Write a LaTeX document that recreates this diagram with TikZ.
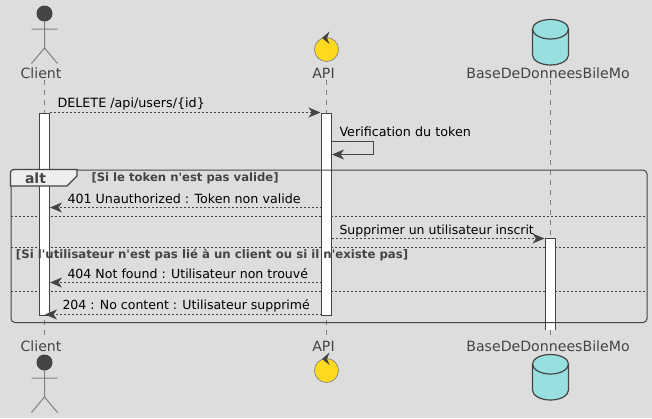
\documentclass[tikz,border=0pt]{standalone}
\usepackage{fontspec}
\setmainfont{DejaVu Sans}
\usetikzlibrary{arrows.meta}
\definecolor{bgGray}{HTML}{DDDDDD}
\definecolor{inkDark}{HTML}{444444}
\definecolor{tabGray}{HTML}{EEEEEE}
\definecolor{ctrlYellow}{HTML}{FFD91F}
\definecolor{dbCyan}{HTML}{98E0E0}
\begin{document}
\begin{tikzpicture}[x=0.75pt,y=-0.75pt,>={Stealth[length=9pt,width=7.5pt,inset=2.6pt]},line width=0.75pt]
  \tikzstyle{head}=[text=inkDark, font=\fontsize{10.6}{12}\selectfont, inner sep=0pt]
  \tikzstyle{msg}=[text=black, font=\fontsize{9.55}{12}\selectfont, inner sep=0pt, anchor=base west]
  \tikzstyle{guard}=[text=inkDark, font=\fontsize{8.72}{10}\selectfont\bfseries, inner sep=0pt, anchor=base west]
  \tikzstyle{bar}=[draw=inkDark, fill=white, minimum width=7.5pt, inner sep=0pt, anchor=north]
  \tikzstyle{life}=[draw=gray, dash pattern=on 3.75pt off 3.75pt, line width=0.6pt]
  \tikzstyle{call}=[->, draw=inkDark, dash pattern=on 1.5pt off 1.5pt, line width=0.6pt]
  \tikzstyle{split}=[draw=inkDark, dash pattern=on 1.5pt off 1.5pt, line width=0.6pt]

  \useasboundingbox[fill=bgGray] (0,0) rectangle (652,418);

  % Lifelines
  \coordinate (clientTop) at (44.5,80);
  \coordinate (clientEnd) at (44.5,338);
  \coordinate (apiTop) at (326.5,80);
  \coordinate (apiEnd) at (326.5,338);
  \coordinate (dbTop) at (550.5,80);
  \coordinate (dbEnd) at (550.5,338);
  \draw[life] (clientTop) -- (clientEnd);
  \draw[life] (apiTop) -- (apiEnd);
  \draw[life] (dbTop) -- (dbEnd);

  % Branch separators
  \coordinate (splitOneA) at (10.5,216);
  \coordinate (splitOneB) at (646.5,216);
  \coordinate (splitTwoA) at (10.5,247.5);
  \coordinate (splitTwoB) at (646.5,247.5);
  \coordinate (splitThreeA) at (10.5,291.5);
  \coordinate (splitThreeB) at (646.5,291.5);
  \draw[split] (splitOneA) -- (splitOneB);
  \draw[split] (splitTwoA) -- (splitTwoB);
  \draw[split] (splitThreeA) -- (splitThreeB);

  % Activation bars
  \node[bar, minimum height=151.5pt] (clientBar) at (44.5,112.5) {};
  \node[bar, minimum height=151.5pt] (apiBar) at (326.5,112.5) {};
  \fill[white] (545.5,238.5) rectangle (555.5,330);
  \draw[inkDark] (545.5,330) -- (545.5,238.5) -- (555.5,238.5) -- (555.5,330);
  \coordinate (dbBar) at (545.5,238.5);

  % Participants, top row
  \fill[inkDark] (44.5,13.5) circle[radius=6pt];
  \draw[gray] (31.5,29) -- (57.5,29) (44.5,21) -- (44.5,48) -- (31.5,63.5) (44.5,48) -- (57.5,63.5);
  \node[head] (clientHead) at (41,73) {Client};
  \draw[inkDark!70, fill=ctrlYellow, line width=0.5pt] (326.5,49.5) circle[radius=9pt];
  \fill[inkDark] (322,38) -- (329.5,31.5) -- (327,38) -- (329.5,44) -- cycle;
  \node[head] (apiHead) at (323.5,73) {API};
  \draw[inkDark, fill=dbCyan, line width=0.9pt] (532.5,29) arc[start angle=180, end angle=360, x radius=18, y radius=9.5] -- (568.5,55) arc[start angle=0, end angle=180, x radius=18, y radius=10] -- cycle;
  \draw[inkDark, line width=0.9pt] (532.5,29) arc[start angle=180, end angle=0, x radius=18, y radius=10];
  \node[head] (dbHead) at (548,73) {BaseDeDonneesBileMo};

  % Participants, bottom row
  \fill[inkDark] (44.5,362.5) circle[radius=6pt];
  \draw[gray] (31.5,378) -- (57.5,378) (44.5,370) -- (44.5,397) -- (31.5,412.5) (44.5,397) -- (57.5,412.5);
  \node[head] (clientFoot) at (41,346) {Client};
  \draw[inkDark!70, fill=ctrlYellow, line width=0.5pt] (326.5,370.5) circle[radius=9pt];
  \fill[inkDark] (322,359) -- (329.5,352.5) -- (327,359) -- (329.5,365) -- cycle;
  \node[head] (apiFoot) at (323.5,346) {API};
  \draw[inkDark, fill=dbCyan, line width=0.9pt] (532.5,364) arc[start angle=180, end angle=360, x radius=18, y radius=9.5] -- (568.5,390) arc[start angle=0, end angle=180, x radius=18, y radius=10] -- cycle;
  \draw[inkDark, line width=0.9pt] (532.5,364) arc[start angle=180, end angle=0, x radius=18, y radius=10];
  \node[head] (dbFoot) at (548,346) {BaseDeDonneesBileMo};

  % Alt frame
  \node[draw=inkDark, rounded corners=3pt, minimum width=477pt, minimum height=114.4pt, inner sep=0pt, anchor=north west] (altFrame) at (10.5,169.5) {};
  \draw[inkDark, fill=tabGray, line width=0.9pt] (10.5,186) -- (10.5,172.5) arc[start angle=180, end angle=270, radius=3] -- (77,169.5) -- (77,176) -- (67,186) -- cycle;
  \node[text=inkDark, font=\fontsize{10.5}{12}\selectfont\bfseries, inner sep=0pt, anchor=base] (altTag) at (35.5,183) {alt};
  \node[guard] (guardOne) at (91,181.5) {[Si le token n\textquotesingle est pas valide]};
  \node[guard, font=\fontsize{8.79}{10}\selectfont\bfseries] (guardTwo) at (15.5,258) {[Si l\textquotesingle utilisateur n\textquotesingle est pas lié à un client ou si il n\textquotesingle existe pas]};

  % Messages
  \coordinate (deleteFrom) at (49.5,112.5);
  \coordinate (deleteTo) at (320.5,112.5);
  \draw[call] (deleteFrom) -- (deleteTo);
  \node[msg] (deleteText) at (57,107.5) {DELETE /api/users/\{id\}};

  \coordinate (checkFrom) at (331.5,141.5);
  \coordinate (checkTo) at (332,154.5);
  \draw[->, draw=inkDark] (checkFrom) -- (373.5,141.5) -- (373.5,154.5) -- (checkTo);
  \node[msg] (checkText) at (339,136) {Verification du token};

  \coordinate (refuseFrom) at (321.5,207.5);
  \coordinate (refuseTo) at (50,207.5);
  \draw[call] (refuseFrom) -- (refuseTo);
  \node[msg, font=\fontsize{9.51}{12}\selectfont] (refuseText) at (67,203) {401 Unauthorized : Token non valide};

  \coordinate (removeFrom) at (331.5,238.5);
  \coordinate (removeTo) at (544.5,238.5);
  \draw[call] (removeFrom) -- (removeTo);
  \node[msg, font=\fontsize{9.37}{12}\selectfont] (removeText) at (339,234) {Supprimer un utilisateur inscrit};

  \coordinate (missFrom) at (321.5,282.5);
  \coordinate (missTo) at (50,282.5);
  \draw[call] (missFrom) -- (missTo);
  \node[msg, font=\fontsize{9.43}{12}\selectfont] (missText) at (67,278) {404 Not found : Utilisateur non trouvé};

  \coordinate (doneFrom) at (321.5,314.5);
  \coordinate (doneTo) at (45,314.5);
  \draw[call] (doneFrom) -- (doneTo);
  \node[msg, font=\fontsize{9.4}{12}\selectfont] (doneText) at (62,309) {204 : No content : Utilisateur supprimé};
\end{tikzpicture}
\end{document}
